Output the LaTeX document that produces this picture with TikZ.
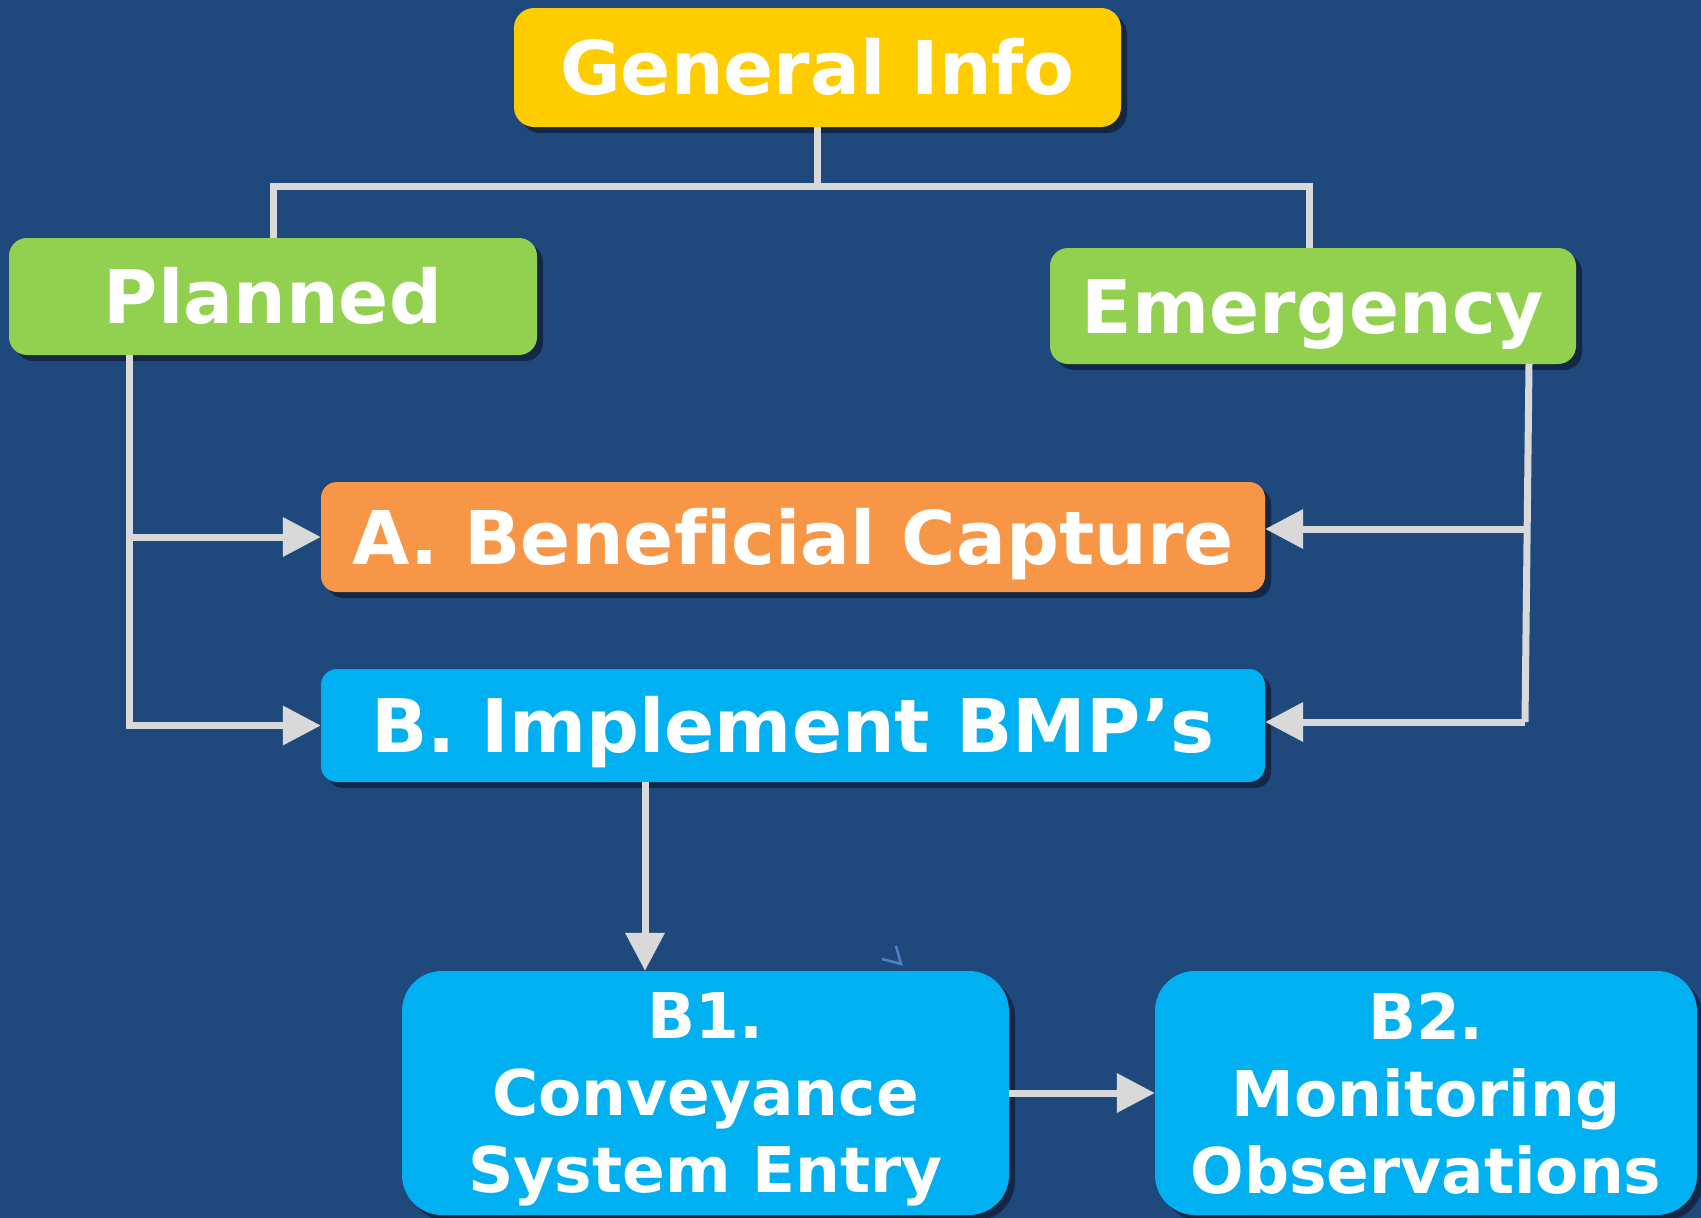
\documentclass[tikz,border=0pt]{standalone}
\usepackage{fontspec}
\setmainfont{DejaVu Sans}[Ligatures=NoCommon]
\usetikzlibrary{arrows.meta,shadows,calc}
\definecolor{bg}{HTML}{1F497D}
\definecolor{yel}{HTML}{FFCC00}
\definecolor{grn}{HTML}{92D050}
\definecolor{org}{HTML}{F79646}
\definecolor{blu}{HTML}{00B0F0}
\definecolor{lin}{HTML}{D9D9D9}
\definecolor{shd}{RGB}{20,40,70}
\definecolor{chev}{RGB}{80,130,195}
\begin{document}
\begin{tikzpicture}[x=1pt,y=-1pt,
  boxbase/.style={inner sep=0pt, text=white, draw=none,
    general shadow={fill=shd, shadow xshift=6pt, shadow yshift=-6pt}},
  bigtxt/.style={font=\bfseries\fontsize{74}{80}\selectfont, text height=54pt, text depth=0pt},
  smalltxt/.style={font=\bfseries\fontsize{63}{77}\selectfont, align=center, text depth=0pt},
  conn/.style={draw=lin, line width=7pt},
  arr/.style={conn, -{Triangle[length=38pt,width=38pt]}}]
\fill[bg] (0,0) rectangle (1701,1218);
\useasboundingbox (0,0) rectangle (1701,1218);

\node[boxbase, bigtxt, fill=yel, rounded corners=20pt, minimum width=607pt, minimum height=119pt] (gi) at (817.5,67.5) {General Info};
\node[boxbase, bigtxt, fill=grn, rounded corners=18pt, minimum width=528pt, minimum height=117pt] (pl) at (273,296.5) {Planned};
\node[boxbase, bigtxt, fill=grn, rounded corners=18pt, minimum width=526pt, minimum height=116pt] (em) at (1313,306) {Emergency};
\node[boxbase, bigtxt, fill=org, rounded corners=16pt, minimum width=944pt, minimum height=110pt] (a) at (793,537) {A. Beneficial Capture};
\node[boxbase, bigtxt, fill=blu, rounded corners=16pt, minimum width=944pt, minimum height=113pt] (b) at (793,725.5) {B. Implement BMP’s};
\node[boxbase, smalltxt, fill=blu, rounded corners=40pt, minimum width=607pt, minimum height=244pt] (b1) at (705.5,1093) {B1.\\Conveyance\\System Entry};
\node[boxbase, smalltxt, fill=blu, rounded corners=40pt, minimum width=542pt, minimum height=244pt] (b2) at (1426,1093) {B2.\\Monitoring\\Observations};

% tree from General Info
\coordinate (bus) at (817.5,186);
\coordinate (emtop) at (1309,248);
\draw[conn] (gi.south) -- (bus);
\draw[conn] (pl.north) -- (pl.north |- bus) -- (emtop |- bus) -- (emtop);

% Planned branch
\coordinate (plx) at (129,355);
\draw[arr] (plx) |- (b.west);
\draw[arr] (plx |- a.west) -- (a.west);

% Emergency branch
\coordinate (emx) at (1529,364);
\coordinate (emy) at (1525,722);
\draw[conn] (emx) -- (emy);
\draw[arr] (emy) -- ([yshift=3.5pt]b.east);
\draw[arr] (1527,529) -- ([yshift=8pt]a.east);

% B to B1, B1 to B2
\coordinate (bx) at (645,782);
\draw[arr] (bx) -- (bx |- b1.north);
\draw[arr] (b1.east) -- (b2.west);

% stray mark
\draw[chev, line width=2.5pt] (882,959) -- (901,964) -- (896,946);
\end{tikzpicture}
\end{document}
